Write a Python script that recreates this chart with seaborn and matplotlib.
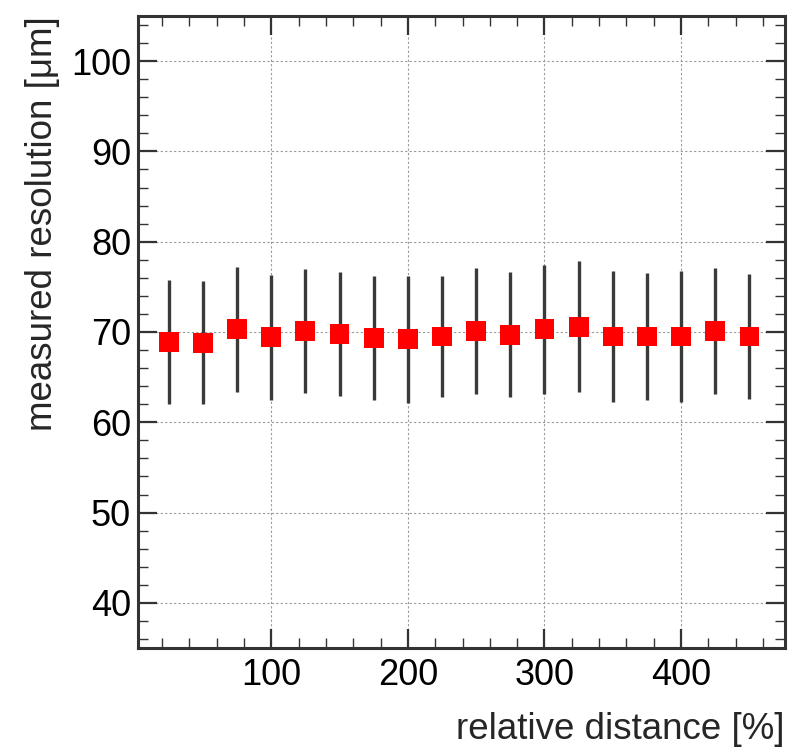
import numpy as np
import pandas as pd
import matplotlib
matplotlib.use("Agg")
import matplotlib.pyplot as plt
from matplotlib.ticker import MultipleLocator
import seaborn as sns

# data
distance = [25, 50, 75, 100, 125, 150, 175, 200, 225, 250, 275, 300, 325, 350, 375, 400, 425, 450]
resolution = [68.9, 68.8, 70.3, 69.4, 70.1, 69.8, 69.3, 69.2, 69.5, 70.1, 69.7, 70.3, 70.6, 69.5, 69.5, 69.5, 70.1, 69.5]
res_error = [6.9, 6.8, 6.9, 6.9, 6.85, 6.85, 6.85, 7.05, 6.75, 6.95, 6.95, 7.15, 7.3, 7.3, 7.0, 7.25, 7.0, 6.95]
x_ticks = [100, 200, 300, 400]
y_ticks = [40, 50, 60, 70, 80, 90, 100]
x_label = "relative distance [%]"
y_label = "measured resolution [\u03bcm]"

df = pd.DataFrame({"distance": distance, "resolution": resolution, "err": res_error})

sns.set_theme(style="white")
plt.rcParams["font.family"] = ["Liberation Sans", "DejaVu Sans"]

fig = plt.figure(figsize=(8.09, 7.53), dpi=100)
ax = fig.add_axes([0.1706, 0.1394, 0.9703 - 0.1706, 0.9788 - 0.1394])

ax.errorbar(df["distance"], df["resolution"], yerr=df["err"], fmt="none",
            ecolor="#3a3a3a", elinewidth=2.4, capsize=0, zorder=3)
sns.scatterplot(data=df, x="distance", y="resolution", marker="s", s=205,
                color="#ff0000", edgecolor="none", linewidth=0, ax=ax, zorder=4)

ax.set_xlim(2.5, 476)
ax.set_ylim(35, 105)
ax.set_xticks(x_ticks)
ax.set_yticks(y_ticks)
ax.xaxis.set_minor_locator(MultipleLocator(20))
ax.yaxis.set_minor_locator(MultipleLocator(2))

ax.grid(True, which="major", color="#9a9a9a", linestyle=(0, (2, 2)), linewidth=0.8)
ax.set_axisbelow(True)

ax.tick_params(axis="both", which="both", direction="in", top=True, right=True,
               bottom=True, left=True, colors="#333333", labelcolor="black",
               labelsize=26)
ax.tick_params(axis="both", which="major", length=14, width=1.6)
ax.tick_params(axis="both", which="minor", length=7, width=1.0)
ax.tick_params(axis="x", which="major", pad=7)
ax.tick_params(axis="y", which="major", pad=5)

for sp in ax.spines.values():
    sp.set_color("#333333")
    sp.set_linewidth(2.2)
    sp.set_visible(True)

ax.set_xlabel(x_label, fontsize=26.5, loc="right", labelpad=14)
ax.set_ylabel(y_label, fontsize=26.5, loc="top", labelpad=8)

fig.savefig("out.png", dpi=100, facecolor="white")
